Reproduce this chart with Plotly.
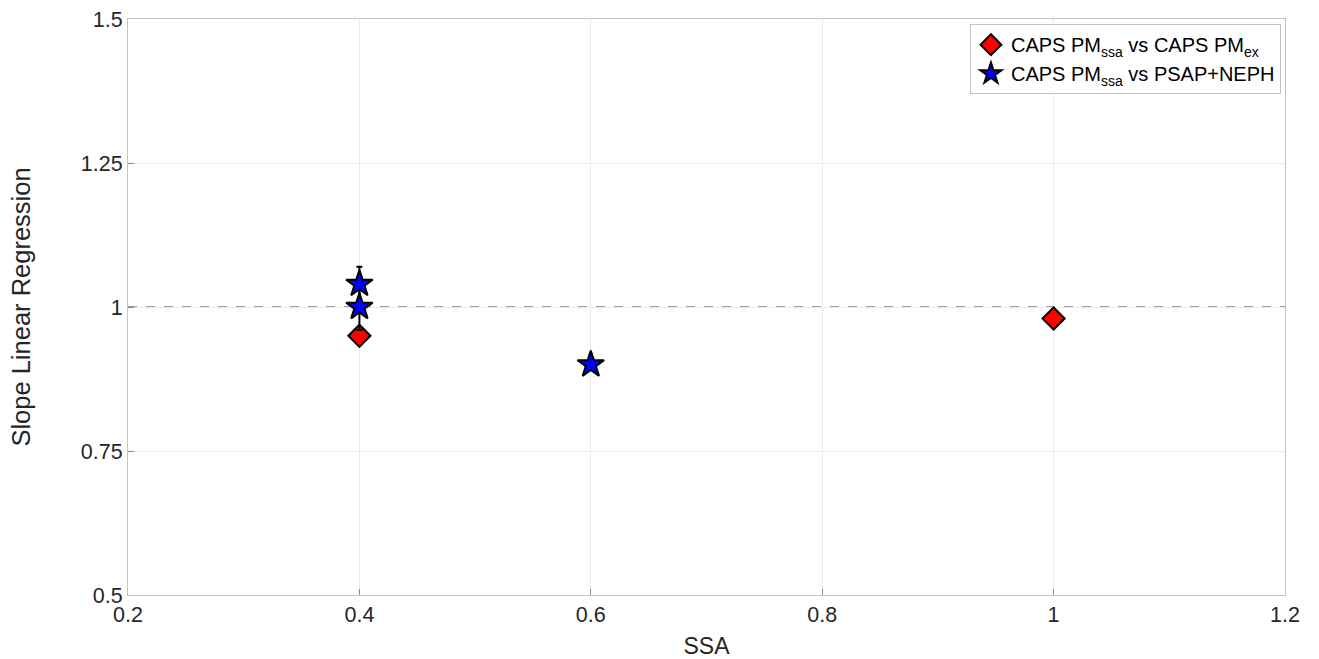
import plotly.graph_objects as go

# Slope of linear regression against single-scattering albedo (SSA)
ssa_ex = [0.4, 1.0]
slope_ex = [0.95, 0.98]
err_ex = [0.008, 0.008]

ssa_neph = [0.4, 0.4, 0.6]
slope_neph = [1.04, 1.0, 0.9]
err_neph = [0.03, 0.04, 0.005]

x_ticks = [0.2, 0.4, 0.6, 0.8, 1.0, 1.2]
x_tick_text = ["0.2", "0.4", "0.6", "0.8", "1", "1.2"]
y_ticks = [0.5, 0.75, 1.0, 1.25, 1.5]
y_tick_text = ["0.5", "0.75", "1", "1.25", "1.5"]

FONT = "Liberation Sans, Arial, Helvetica, sans-serif"
TXT = "#262626"

fig = go.Figure()

fig.add_trace(go.Scatter(
    x=ssa_ex, y=slope_ex, mode="markers",
    name="CAPS PM<sub>ssa</sub> vs CAPS PM<sub>ex</sub>",
    marker=dict(symbol="diamond", size=17, color="#ff0000",
                line=dict(color="black", width=2)),
    error_y=dict(type="data", array=err_ex, color="black", thickness=2, width=3),
))

fig.add_trace(go.Scatter(
    x=ssa_neph, y=slope_neph, mode="markers",
    name="CAPS PM<sub>ssa</sub> vs PSAP+NEPH",
    marker=dict(symbol="star", size=20, color="#0000ff",
                line=dict(color="black", width=2)),
    error_y=dict(type="data", array=err_neph, color="black", thickness=2, width=3),
))

# Reference line for slope = 1
fig.add_shape(type="line", xref="paper", yref="y", x0=0, x1=1, y0=1, y1=1,
              line=dict(color="#808080", width=1.5, dash="dash"), layer="below")

axis_common = dict(
    showgrid=True, gridcolor="#ebebeb", gridwidth=1,
    showline=True, linecolor="#c4c4c4", linewidth=1, mirror=True,
    ticks="inside", ticklen=6, tickcolor="#8a8a8a",
    zeroline=False, automargin=False,
    tickfont=dict(family=FONT, size=21.5, color=TXT),
)

fig.update_xaxes(range=[0.2, 1.2], tickvals=x_ticks, ticktext=x_tick_text,
                 title=dict(text="SSA", font=dict(family=FONT, size=23, color=TXT), standoff=14),
                 **axis_common)
fig.update_yaxes(range=[0.5, 1.5], tickvals=y_ticks, ticktext=y_tick_text,
                 title=dict(text="Slope Linear Regression", font=dict(family=FONT, size=25.5, color=TXT), standoff=42),
                 **axis_common)

fig.update_layout(
    width=1319, height=659,
    margin=dict(l=128, r=34, t=19, b=64),
    plot_bgcolor="white", paper_bgcolor="white",
    font=dict(family=FONT, color=TXT),
    legend=dict(x=0.9965, y=0.991, xanchor="right", yanchor="top",
                bgcolor="white", bordercolor="#c4c4c4", borderwidth=1,
                font=dict(family=FONT, size=20, color="black"),
                itemwidth=30, tracegroupgap=0),
    showlegend=True,
)

fig.write_html("out.html")
